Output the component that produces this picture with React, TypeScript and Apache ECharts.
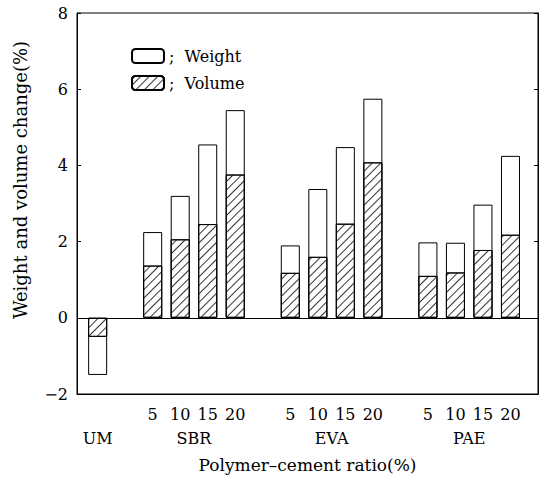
import React, { useEffect, useRef } from "react";
import * as echarts from "echarts";

// ---- data ----
const groupNames = ["UM", "SBR", "EVA", "PAE"];
const ratioLabels = ["5", "10", "15", "20"];
const yTicks = [-2, 0, 2, 4, 6, 8];

const umWeight = [-1.5];
const umVolume = [-0.5];
const sbrWeight = [2.25, 3.2, 4.55, 5.45];
const sbrVolume = [1.37, 2.06, 2.46, 3.76];
const evaWeight = [1.9, 3.38, 4.48, 5.75];
const evaVolume = [1.18, 1.6, 2.47, 4.08];
const paeWeight = [1.98, 1.97, 2.97, 4.25];
const paeVolume = [1.1, 1.19, 1.78, 2.18];

const FONT = "'DejaVu Serif', 'Liberation Serif', serif";

// slot positions: UM at 0, each polymer group of 4 after one empty slot
const groupStart = (g: number) => (g === 0 ? 0 : 2 + (g - 1) * 5);

export default function App() {
  const ref = useRef<HTMLDivElement>(null);
  useEffect(() => {
    if (!ref.current) return;
    const chart = echarts.init(ref.current, undefined, { renderer: "svg" });

    const weightGroups = [umWeight, sbrWeight, evaWeight, paeWeight];
    const volumeGroups = [umVolume, sbrVolume, evaVolume, paeVolume];
    const toPairs = (groups: number[][]) =>
      groups.flatMap((vals, g) => vals.map((v, i) => [groupStart(g) + i, v]));

    const numLabelMap: Record<string, string> = {};
    const groupLabelMap: Record<string, string> = {};
    groupNames.forEach((name, g) => {
      if (g === 0) {
        groupLabelMap[String(groupStart(g))] = name;
      } else {
        ratioLabels.forEach((r, i) => {
          numLabelMap[String(groupStart(g) + i)] = r;
        });
        groupLabelMap[String(groupStart(g) + 1.5)] = name;
      }
    });
    const key = (v: number) => String(Math.round(v * 4) / 4);

    const textStyle = { fontFamily: FONT, color: "#000" };

    chart.setOption({
      animation: false,
      backgroundColor: "#fff",
      textStyle,
      grid: {
        left: 77,
        right: 4,
        top: 13,
        bottom: 84,
        show: true,
        borderColor: "#000",
        borderWidth: 1,
        backgroundColor: "transparent",
      },
      legend: {
        orient: "vertical",
        left: 126,
        top: 43,
        itemWidth: 32,
        itemHeight: 14,
        itemGap: 11,
        data: ["Weight", "Volume"],
        formatter: (n: string) => ";  " + n,
        textStyle: { fontFamily: FONT, fontSize: 16, color: "#000" },
      },
      xAxis: [
        {
          type: "value",
          min: -0.75,
          max: 16,
          interval: 0.25,
          position: "bottom",
          axisLine: { show: true, onZero: false, lineStyle: { color: "#000" } },
          axisTick: { show: false },
          splitLine: { show: false },
          axisLabel: {
            formatter: (v: number) => numLabelMap[key(v)] ?? "",
            margin: 12,
            fontFamily: FONT,
            fontSize: 16,
            color: "#000",
          },
        },
        {
          type: "value",
          min: -0.75,
          max: 16,
          interval: 0.25,
          position: "bottom",
          axisLine: { show: false, onZero: false },
          axisTick: { show: false },
          splitLine: { show: false },
          axisLabel: {
            formatter: (v: number) => groupLabelMap[key(v)] ?? "",
            margin: 36,
            fontFamily: FONT,
            fontSize: 16,
            color: "#000",
          },
          name: "Polymer–cement ratio(%)",
          nameLocation: "middle",
          nameGap: 62,
          nameTextStyle: { fontFamily: FONT, fontSize: 17, color: "#000" },
        },
      ],
      yAxis: [
        {
          type: "value",
          min: yTicks[0],
          max: yTicks[yTicks.length - 1],
          interval: 2,
          position: "left",
          axisLine: { show: true, onZero: false, lineStyle: { color: "#000" } },
          axisTick: { show: true, inside: true, length: 4, lineStyle: { color: "#000" } },
          splitLine: { show: false },
          axisLabel: {
            formatter: (v: number) => (v < 0 ? "−" + Math.abs(v) : String(v)),
            margin: 9,
            fontFamily: FONT,
            fontSize: 16,
            color: "#000",
          },
        },
        {
          type: "value",
          min: yTicks[0],
          max: yTicks[yTicks.length - 1],
          interval: 2,
          position: "right",
          axisLine: { show: true, onZero: false, lineStyle: { color: "#000" } },
          axisTick: { show: true, inside: true, length: 4, lineStyle: { color: "#000" } },
          splitLine: { show: false },
          axisLabel: { show: false },
        },
      ],
      series: [
        {
          name: "Weight",
          type: "bar",
          xAxisIndex: 0,
          yAxisIndex: 0,
          barWidth: 19,
          barGap: "-100%",
          data: toPairs(weightGroups),
          itemStyle: { color: "#fff", borderColor: "#000", borderWidth: 1 },
          markLine: {
            silent: true,
            symbol: "none",
            label: { show: false },
            lineStyle: { color: "#000", width: 1, type: "solid" },
            data: [{ yAxis: 0 }],
          },
        },
        {
          name: "Volume",
          type: "bar",
          xAxisIndex: 0,
          yAxisIndex: 0,
          barWidth: 19,
          barGap: "-100%",
          data: toPairs(volumeGroups),
          itemStyle: {
            color: "#fff",
            borderColor: "#000",
            borderWidth: 1,
            decal: {
              symbol: "rect",
              symbolSize: 1,
              dashArrayX: [1, 0],
              dashArrayY: [1, 5],
              rotation: -Math.PI / 4,
              color: "#333",
              backgroundColor: "#fff",
            },
          },
        },
      ],
      graphic: [
        {
          type: "text",
          x: 20,
          y: 180,
          rotation: Math.PI / 2,
          style: {
            text: "Weight and volume change(%)",
            fontFamily: FONT,
            fontSize: 18,
            fill: "#000",
            align: "center",
            verticalAlign: "middle",
          },
        },
      ],
    });
    return () => chart.dispose();
  }, []);
  return (
    <div
      ref={ref}
      style={{ position: "fixed", left: 0, top: 0, width: 542, height: 478, background: "#fff" }}
    />
  );
}
